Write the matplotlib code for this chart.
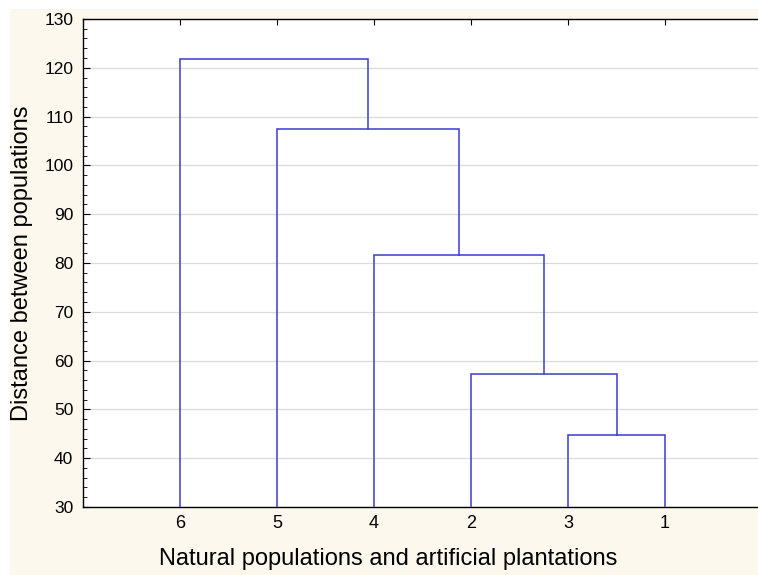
import numpy as np
import matplotlib.pyplot as plt
from matplotlib.ticker import MultipleLocator
from matplotlib.patches import Rectangle

plt.rcParams['font.family'] = ['Liberation Sans', 'DejaVu Sans']

# leaf order along the x axis
leaf_labels = ['6', '5', '4', '2', '3', '1']
# merges: (left member, right member, height); members are leaf labels or merge index
merges = [('3', '1', 44.8),
          ('2', 0, 57.3),
          ('4', 1, 81.7),
          ('5', 2, 107.5),
          ('6', 3, 121.9)]

line_col = '#3b3bcc'
bg = '#fcf8ee'

fig = plt.figure(figsize=(7.58, 5.75), dpi=100, facecolor='white')
# cream panel with a thin white margin at top and left
fig.patches.append(Rectangle((10 / 758, 0), 1, 1 - 9 / 575, transform=fig.transFigure,
                             facecolor=bg, edgecolor='none', zorder=-10))
ax = fig.add_axes([0.1095, 0.1183, 0.8958, 0.8487])
ax.set_facecolor('white')

leaf_x = {lab: i + 1 for i, lab in enumerate(leaf_labels)}
node_x = []
node_y = []


def pos(m):
    if isinstance(m, str):
        return leaf_x[m], 30.0
    return node_x[m], node_y[m]


for a, b, h in merges:
    xa, ya = pos(a)
    xb, yb = pos(b)
    ax.plot([xa, xa, xb, xb], [ya, h, h, yb], color=line_col, lw=1.1,
            solid_joinstyle='miter', zorder=3)
    node_x.append((xa + xb) / 2)
    node_y.append(h)

ax.set_xlim(0, len(leaf_labels) + 1)
ax.set_ylim(30, 130)
ax.set_xticks(range(1, len(leaf_labels) + 1))
ax.set_xticklabels(leaf_labels)
ax.yaxis.set_major_locator(MultipleLocator(10))
ax.yaxis.set_minor_locator(MultipleLocator(2))
ax.grid(axis='y', color='#dadada', lw=0.9, zorder=0)

ax.tick_params(axis='x', which='both', bottom=False, top=True, direction='in',
               length=4, labelsize=13, pad=6, color='black')
ax.tick_params(axis='y', which='major', direction='in', length=5, labelsize=12.5,
               right=False, pad=7)
ax.tick_params(axis='y', which='minor', direction='in', length=3, right=False)

for s in ax.spines.values():
    s.set_color('black')
    s.set_linewidth(1.0)

ax.set_xlabel('Natural populations and artificial plantations', fontsize=17)
ax.xaxis.set_label_coords(0.449, -0.085)
ax.set_ylabel('Distance between populations', fontsize=17)
ax.yaxis.set_label_coords(-0.074, 0.5)

fig.savefig('out.png', dpi=100, facecolor='white')
